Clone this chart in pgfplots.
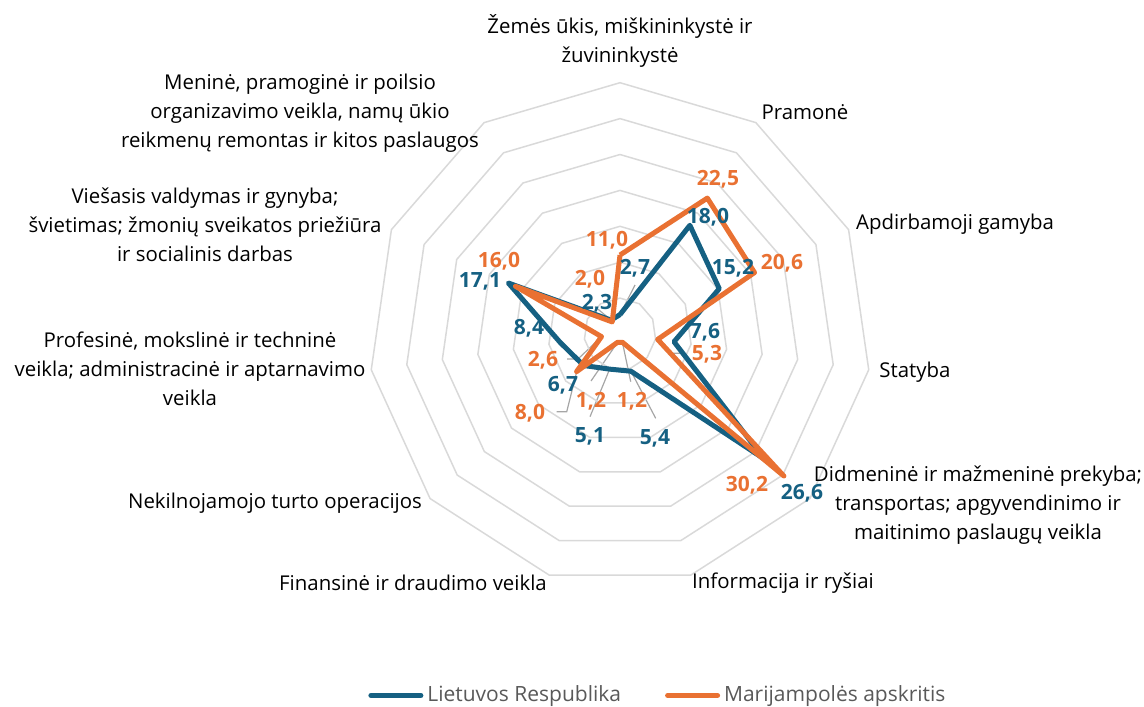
\documentclass[border=0pt]{standalone}
\usepackage{pgfplots}
\usepackage{pgfplotstable}
\pgfplotsset{compat=1.18}
\usepackage{fontspec}
\setmainfont{Open Sans}

\definecolor{ltblue}{HTML}{156082}
\definecolor{mrorange}{HTML}{E97132}
\definecolor{gridgray}{HTML}{D9D9D9}
\definecolor{leadgray}{HTML}{A6A6A6}
\definecolor{txtgray}{HTML}{595959}

% k = category index (clockwise from the top), shares in %
\pgfplotstableread{
k  lt    mar
0  2.7   11.0
1  18.0  22.5
2  15.2  20.6
3  7.6   5.3
4  26.6  30.2
5  5.4   1.2
6  5.1   1.2
7  6.7   8.0
8  8.4   2.6
9  17.1  16.0
10 2.3   2.0
11 2.7   11.0
}\shares

\begin{document}
\begin{tikzpicture}
% leader lines of the data labels (picture drawn in px of the reference)
\begin{scope}[x=0.5pt, y=-0.5pt, shift={(0pt,353pt)}, leadgray, line width=0.6pt]
\draw (556.7,411.7) -- (566.7,411.7) -- (576.7,371.7);
\draw (567,359) -- (578,359) -- (601.5,336.7);
\draw (590,416.7) -- (609.7,369);
\draw (591,381) -- (617.6,342.3);
\draw (630.7,381.7) -- (622.4,342.3);
\draw (655.7,418.3) -- (630.9,371.2);
\draw (657.7,339.4) -- (671.7,353.3) -- (683.3,353.3);
\draw (595,306.7) -- (611.1,320.1);
\draw (635,285) -- (620,314.6);
\end{scope}

\begin{axis}[
  x=3.59pt, y=3.59pt,
  scale only axis,
  xmin=-86.35, xmax=72.98, ymin=-51.81, ymax=46.52,
  hide axis, clip=false,
  data cs=polar,
  legend columns=2,
  legend image code/.code={\draw[#1, line cap=round] (0pt,0pt) -- (25pt,0pt);},
  legend style={at={(rel axis cs:0.576,0.015)}, anchor=center, draw=none, fill=none,
    font=\fontsize{10.5}{12}\selectfont, text=txtgray,
    /tikz/every even column/.append style={column sep=20pt}},
]
\pgfplotsinvokeforeach{5,10,15,20,25,30,35}{
  \addplot[gridgray, line width=0.75pt, forget plot]
    table[x expr={90-\thisrow{k}*360/11}, y expr=#1] {\shares};
}
\addplot[ltblue, line width=2.5pt, line join=round]
  table[x expr={90-\thisrow{k}*360/11}, y=lt] {\shares};
\addplot[mrorange, line width=2.5pt, line join=round]
  table[x expr={90-\thisrow{k}*360/11}, y=mar] {\shares};
\legend{Lietuvos Respublika, Marijampolės apskritis}
\end{axis}

\begin{scope}[x=0.5pt, y=-0.5pt, shift={(0pt,353pt)}]
% category labels
\tikzset{cat/.style={align=center, inner sep=0pt, font=\fontsize{10.2}{14.5}\selectfont}}
\node[cat] at (620,41) {Žemės ūkis, miškininkystė ir\\žuvininkystė};
\node[cat] at (805,112) {Pramonė};
\node[cat] at (955,224) {Apdirbamoji gamyba};
\node[cat] at (915,372) {Statyba};
\node[cat] at (978,505) {Didmeninė ir mažmeninė prekyba;\\transportas; apgyvendinimo ir\\maitinimo paslaugų veikla};
\node[cat] at (783,583) {Informacija ir ryšiai};
\node[cat] at (413,583) {Finansinė ir draudimo veikla};
\node[cat] at (275,503) {Nekilnojamojo turto operacijos};
\node[cat] at (190,369) {Profesinė, mokslinė ir techninė\\veikla; administracinė ir aptarnavimo\\veikla};
\node[cat] at (205,225) {Viešasis valdymas ir gynyba;\\švietimas; žmonių sveikatos priežiūra\\ir socialinis darbas};
\node[cat] at (300,113) {Meninė, pramoginė ir poilsio\\organizavimo veikla, namų ūkio\\reikmenų remontas ir kitos paslaugos};
% data labels
\tikzset{dl/.style={inner sep=0pt, font=\fontsize{10.5}{12}\selectfont\bfseries}}
\begin{scope}[every node/.append style={dl, text=mrorange}]
\node at (607,240) {11,0};
\node at (718,179) {22,5};
\node at (782,263) {20,6};
\node at (707,354) {5,3};
\node at (747,485) {30,2};
\node at (632,401) {1,2};
\node at (591,401) {1,2};
\node at (530,413) {8,0};
\node at (543,360) {2,6};
\node at (499,261) {16,0};
\node at (590,279) {2,0};
\end{scope}
\begin{scope}[every node/.append style={dl, text=ltblue}]
\node at (635,268) {2,7};
\node at (708,217) {18,0};
\node at (733,268) {15,2};
\node at (705,332) {7,6};
\node at (802,493) {26,6};
\node at (655,438) {5,4};
\node at (590,436) {5,1};
\node at (563,385) {6,7};
\node at (529,328) {8,4};
\node at (480,281) {17,1};
\node at (597,303) {2,3};
\end{scope}
\end{scope}

\pgfresetboundingbox
\path[use as bounding box] (0pt,0pt) rectangle (572pt,353pt);
\end{tikzpicture}
\end{document}
